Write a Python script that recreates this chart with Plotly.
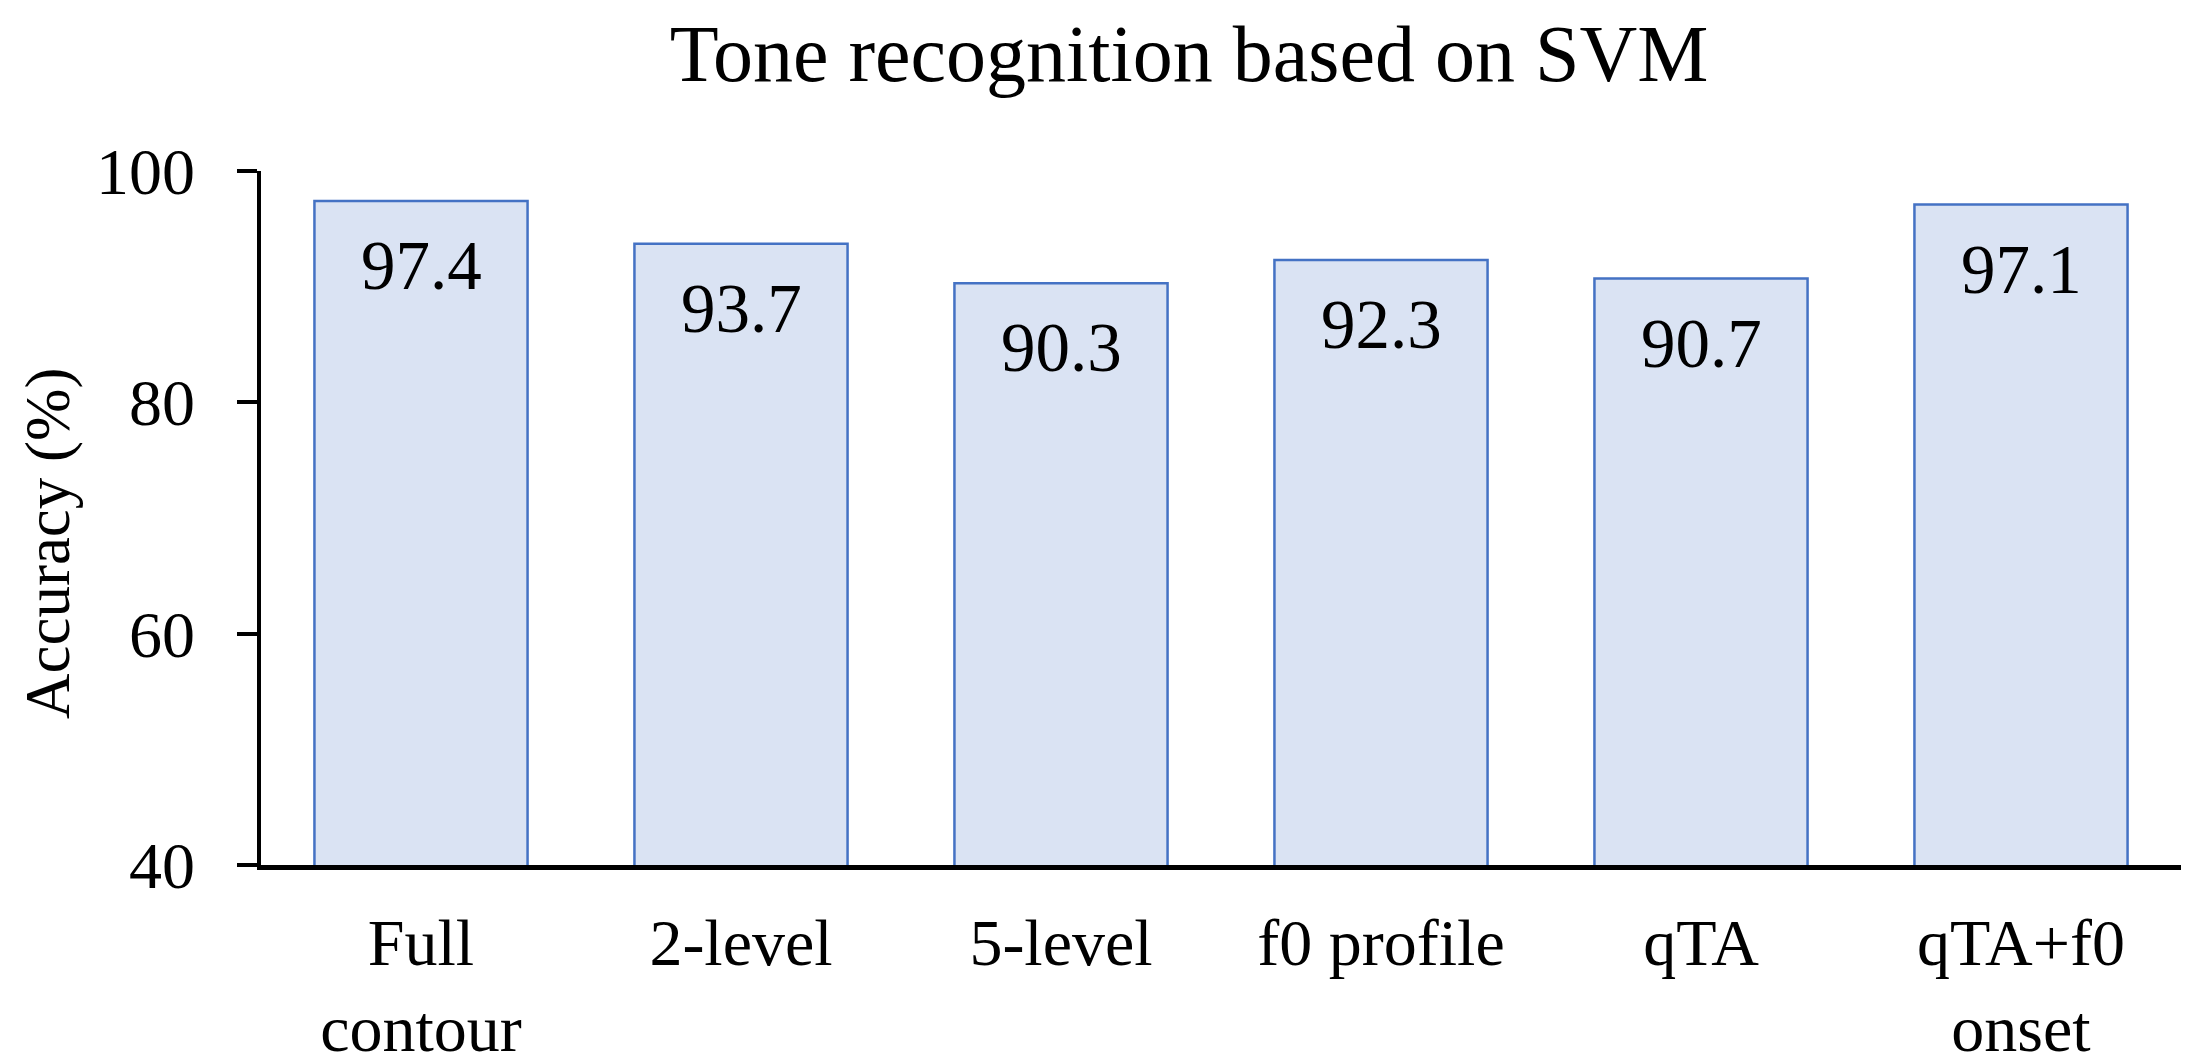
import plotly.graph_objects as go

categories = ["Full<br>contour", "2-level", "5-level", "f0 profile", "qTA", "qTA+f0<br>onset"]
accuracy = [97.4, 93.7, 90.3, 92.3, 90.7, 97.1]
value_labels = ["97.4", "93.7", "90.3", "92.3", "90.7", "97.1"]
y_ticks = [40, 60, 80, 100]

FONT = "Liberation Serif"
OFF = 8  # default page body margin
W, H = 2199 - OFF, 1064 - OFF
ML, MT = 261 - OFF, 171 - OFF
MR = W - (2181 - OFF)
MB = H - (865 - OFF)

fig = go.Figure()
fig.add_trace(go.Bar(
    x=categories,
    y=accuracy,
    marker=dict(color="#DAE3F3", line=dict(color="#4472C4", width=2.5)),
    width=0.666,
    hoverinfo="skip",
))

annotations = []
for c, v, t in zip(categories, accuracy, value_labels):
    annotations.append(dict(
        x=c, y=v, xref="x", yref="y", text=t, showarrow=False,
        yanchor="middle", yshift=-65,
        font=dict(family=FONT, size=69, color="black"),
    ))

plot_w = W - ML - MR
plot_h = H - MT - MB
annotations.append(dict(
    x=(48 - OFF - ML) / plot_w, y=(H - (543 - OFF) - MB) / plot_h,
    xref="paper", yref="paper", text="Accuracy (%)", textangle=-90,
    showarrow=False, xanchor="center", yanchor="middle",
    font=dict(family=FONT, size=63, color="black"),
))

fig.update_layout(
    width=W, height=H,
    margin=dict(l=ML, r=MR, t=MT, b=MB, pad=0, autoexpand=False),
    paper_bgcolor="white", plot_bgcolor="white",
    showlegend=False,
    title=dict(
        text="Tone recognition based on SVM",
        xref="container", x=(1189 - OFF) / W, xanchor="center",
        yref="container", y=1 - (53 - OFF) / H, yanchor="middle",
        font=dict(family=FONT, size=80, color="black"),
    ),
    annotations=annotations,
    xaxis=dict(
        automargin=False,
        showline=True, linecolor="black", linewidth=5,
        ticks="", showgrid=False, zeroline=False,
        tickfont=dict(family=FONT, size=66, color="black"),
        ticklabelstandoff=16,
    ),
    yaxis=dict(
        automargin=False,
        range=[40, 100], tickvals=y_ticks,
        showline=True, linecolor="black", linewidth=3.5,
        ticks="outside", ticklen=20, tickwidth=3.5, tickcolor="black",
        showgrid=False, zeroline=False,
        tickfont=dict(family=FONT, size=66, color="black"),
        ticklabelstandoff=29,
    ),
)

fig.write_html("out.html")
